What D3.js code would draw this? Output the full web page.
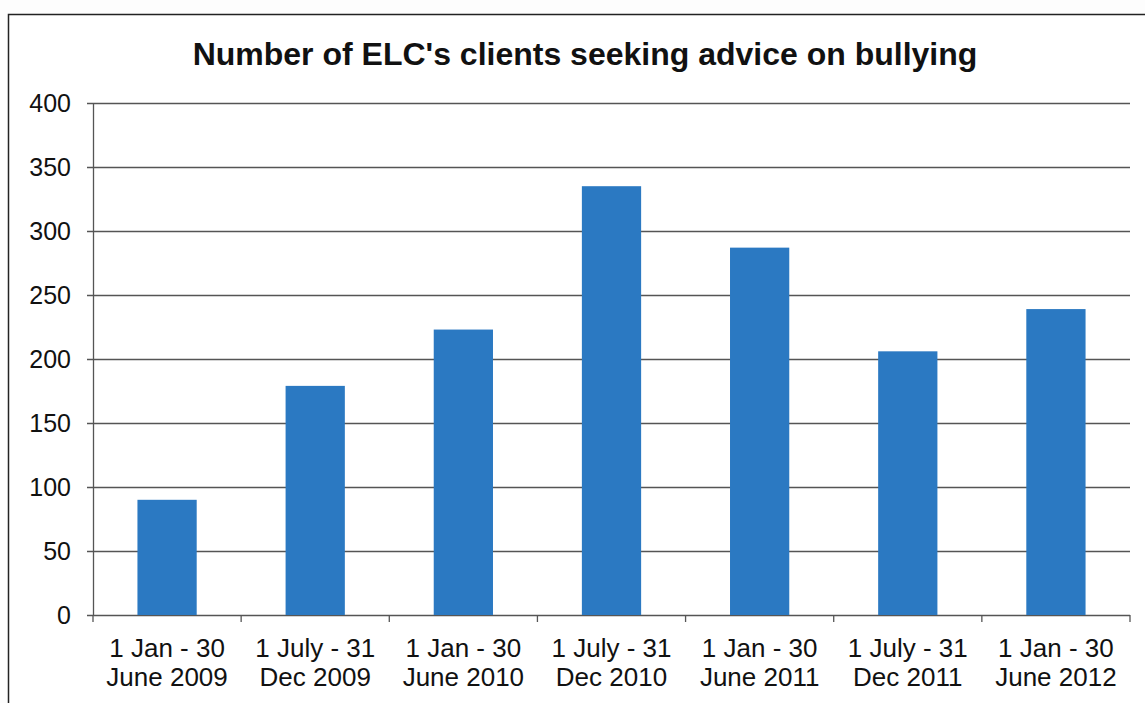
<!DOCTYPE html>
<html>
<head>
<meta charset="utf-8">
<script src="https://cdn.jsdelivr.net/npm/d3@7"></script>
<style>
  body { margin: 0; background: #fdfdfd; }
  text { font-family: "Liberation Sans", Arial, sans-serif; fill: #111; }
</style>
</head>
<body>
<div id="chart"></div>
<script>
/* data */
var periodsLine1 = ["1 Jan - 30", "1 July - 31", "1 Jan - 30", "1 July - 31", "1 Jan - 30", "1 July - 31", "1 Jan - 30"];
var periodsLine2 = ["June 2009", "Dec 2009", "June 2010", "Dec 2010", "June 2011", "Dec 2011", "June 2012"];
var clients = [90, 179, 223, 335, 287, 206, 239];
var yTicks = [0, 50, 100, 150, 200, 250, 300, 350, 400];

var margin = {top: 103, right: 15, bottom: 88, left: 93},
	width = 1145 - margin.left - margin.right,
	height = 703 - margin.top - margin.bottom;

var svg = d3.select("#chart")
	.append("svg")
	.attr("width", 1145)
	.attr("height", 703);

/* chart frame */
svg.append("rect")
	.attr("x", 8.5)
	.attr("y", 14.5)
	.attr("width", 1160)
	.attr("height", 720)
	.style("fill", "#fff")
	.style("stroke", "#222")
	.style("stroke-width", 1.5);

svg.append("text")
	.attr("x", 585)
	.attr("y", 65)
	.style("text-anchor", "middle")
	.style("font-size", "32px")
	.style("font-weight", "bold")
	.text("Number of ELC's clients seeking advice on bullying");

var idx = d3.range(clients.length);
var x = d3.scaleBand().domain(idx).range([0, width]).paddingInner(0.6).paddingOuter(0.3);
var xb = d3.scaleBand().domain(idx).range([0, width]);
var y = d3.scaleLinear().domain([0, 400]).range([height, 0]);

var g = svg.append("g")
	.attr("transform", "translate(" + margin.left + "," + margin.top + ")");

/* gridlines */
g.selectAll(".grid")
	.data(yTicks)
	.enter()
	.append("line")
	.attr("x1", -6)
	.attr("x2", width)
	.attr("y1", function(d) { return Math.round(y(d)) + 0.5; })
	.attr("y2", function(d) { return Math.round(y(d)) + 0.5; })
	.style("stroke", "#555")
	.style("stroke-width", 1.3);

/* y labels */
g.selectAll(".ylab")
	.data(yTicks)
	.enter()
	.append("text")
	.attr("x", -22)
	.attr("y", function(d) { return y(d); })
	.attr("dy", "0.35em")
	.style("text-anchor", "end")
	.style("font-size", "25px")
	.text(function(d) { return d; });

/* y axis line */
g.append("line")
	.attr("x1", 0.5).attr("x2", 0.5)
	.attr("y1", 0).attr("y2", height)
	.style("stroke", "#555")
	.style("stroke-width", 1.3);

/* x category ticks */
g.selectAll(".xtick")
	.data(idx.concat([clients.length]))
	.enter()
	.append("line")
	.attr("x1", function(d) { return d < clients.length ? xb(d) : width; })
	.attr("x2", function(d) { return d < clients.length ? xb(d) : width; })
	.attr("y1", height)
	.attr("y2", height + 7)
	.style("stroke", "#555")
	.style("stroke-width", 1.3);

/* bars */
g.selectAll(".bar")
	.data(clients)
	.enter()
	.append("rect")
	.attr("class", "bar")
	.style("fill", "#2b79c2")
	.attr("x", function(d, i) { return x(i); })
	.attr("y", function(d) { return y(d); })
	.attr("width", x.bandwidth())
	.attr("height", function(d) { return height - y(d); });

/* category labels, two lines */
var lab = g.selectAll(".xlab")
	.data(idx)
	.enter()
	.append("text")
	.attr("x", function(d) { return xb(d) + xb.bandwidth() / 2; })
	.attr("y", height + 42)
	.style("text-anchor", "middle")
	.style("font-size", "26px");
lab.append("tspan")
	.attr("x", function(d) { return xb(d) + xb.bandwidth() / 2; })
	.text(function(d) { return periodsLine1[d]; });
lab.append("tspan")
	.attr("x", function(d) { return xb(d) + xb.bandwidth() / 2; })
	.attr("dy", 29)
	.text(function(d) { return periodsLine2[d]; });
</script>
</body>
</html>
